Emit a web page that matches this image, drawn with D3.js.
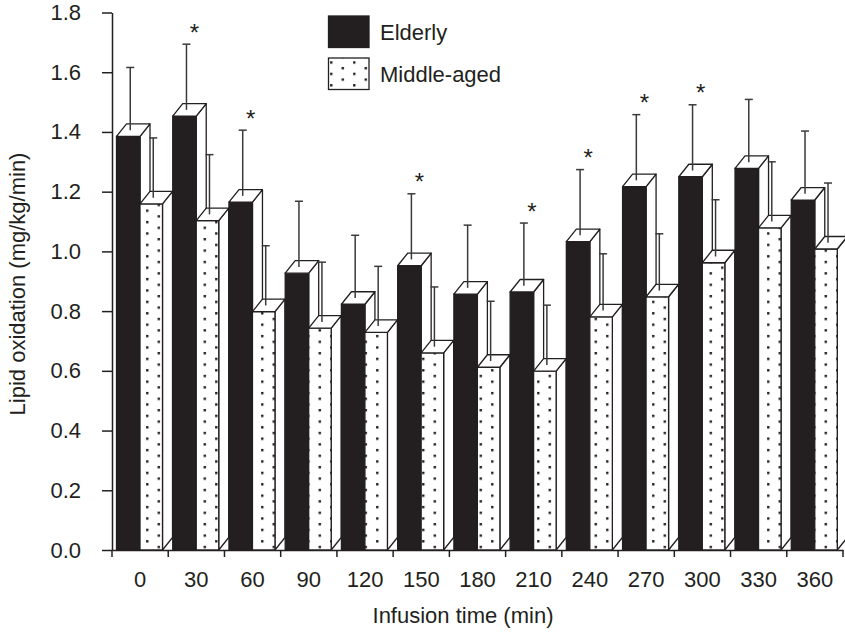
<!DOCTYPE html>
<html>
<head>
<meta charset="utf-8">
<script src="https://cdn.jsdelivr.net/npm/d3@7"></script>
<style>
  body { margin: 0; background: #fff; }
  svg { display: block; }
  text { font-family: "Liberation Sans", Arial, Helvetica, sans-serif; fill: #231f20; }
</style>
</head>
<body>
<svg id="chart" width="845" height="633"></svg>
<script>
// Lipid oxidation during infusion, mean and SD per time point
const times = [0, 30, 60, 90, 120, 150, 180, 210, 240, 270, 300, 330, 360];
const elderly = [1.385, 1.453, 1.165, 0.927, 0.823, 0.952, 0.857, 0.864, 1.033, 1.217, 1.250, 1.278, 1.172];
const elderlySD = [0.21, 0.22, 0.22, 0.22, 0.21, 0.22, 0.21, 0.21, 0.22, 0.22, 0.22, 0.21, 0.21];
const middleAged = [1.159, 1.103, 0.798, 0.743, 0.729, 0.660, 0.612, 0.599, 0.781, 0.848, 0.962, 1.079, 1.008];
const middleAgedSD = [0.20, 0.20, 0.20, 0.20, 0.20, 0.20, 0.20, 0.20, 0.19, 0.19, 0.19, 0.20, 0.20];
const significant = [30, 60, 150, 210, 240, 270, 300];
const yTicks = [0.0, 0.2, 0.4, 0.6, 0.8, 1.0, 1.2, 1.4, 1.6, 1.8];
const seriesNames = ["Elderly", "Middle-aged"];

const ink = "#231f20";
const fontSize = 22;
const svg = d3.select("#chart");

const x = d3.scaleBand().domain(times).range([112, 843]).paddingInner(0).paddingOuter(0);
const y = d3.scaleLinear().domain([0, 1.8]).range([550, 12.5]);

// 3-D box geometry
const depthX = 10, depthY = 12.5;
const offset = 4.5, wE = 23.5, wM = 22.5;

// dotted fill
const defs = svg.append("defs");
const pat = defs.append("pattern")
  .attr("id", "dots")
  .attr("patternUnits", "userSpaceOnUse")
  .attr("x", 146.1).attr("y", 4.3)
  .attr("width", 23).attr("height", 11.4);
pat.append("rect").attr("width", 23).attr("height", 11.4).attr("fill", "#fff");
pat.append("rect").attr("x", 0).attr("y", 0).attr("width", 2.4).attr("height", 2.4).attr("fill", ink);
pat.append("rect").attr("x", 11.5).attr("y", 5.7).attr("width", 2.4).attr("height", 2.4).attr("fill", ink);

function box(g, x0, w, v, fill) {
  const yt = y(v), yb = y(0), x1 = x0 + w;
  // side face
  g.append("polygon")
    .attr("points", [[x1, yb], [x1 + depthX, yb - depthY], [x1 + depthX, yt - depthY], [x1, yt]].join(" "))
    .attr("fill", "#fff").attr("stroke", ink).attr("stroke-width", 1.3).attr("stroke-linejoin", "round");
  // front face
  g.append("rect")
    .attr("x", x0).attr("y", yt).attr("width", w).attr("height", yb - yt)
    .attr("fill", fill).attr("stroke", ink).attr("stroke-width", 1.3);
  // top face
  g.append("polygon")
    .attr("points", [[x0, yt], [x0 + depthX, yt - depthY], [x1 + depthX, yt - depthY], [x1, yt]].join(" "))
    .attr("fill", "#fff").attr("stroke", ink).attr("stroke-width", 1.3).attr("stroke-linejoin", "round");
}

const bars = svg.append("g");
times.forEach((t, i) => {
  const g = bars.append("g");
  const xe = x(t) + offset;
  box(g, xe, wE, elderly[i], ink);
  box(g, xe + wE, wM, middleAged[i], "url(#dots)");
});

// error bars (upper only)
const err = svg.append("g").attr("stroke", "#3a3a3a").attr("stroke-width", 1.5);
function errorBar(cx, v, sd) {
  const y0 = y(v) - depthY / 2, y1 = y(v + sd) - depthY / 2;
  err.append("line").attr("x1", cx).attr("x2", cx).attr("y1", y0).attr("y2", y1);
  err.append("line").attr("x1", cx - 4).attr("x2", cx + 4).attr("y1", y1).attr("y2", y1);
}
times.forEach((t, i) => {
  const xe = x(t) + offset;
  errorBar(xe + wE / 2 + 2, elderly[i], elderlySD[i]);
  errorBar(xe + wE + wM / 2 + 2, middleAged[i], middleAgedSD[i]);
});

// significance markers
times.forEach((t, i) => {
  if (!significant.includes(t)) return;
  const cx = x(t) + offset + wE / 2 + 10;
  const capY = y(elderly[i] + elderlySD[i]) - depthY / 2;
  svg.append("text").attr("x", cx).attr("y", capY - 3.5)
    .attr("text-anchor", "middle").attr("font-size", 24).text("*");
});

// y axis
const yAxis = svg.append("g").attr("transform", "translate(112,0)")
  .call(d3.axisLeft(y).tickValues(yTicks).tickFormat(d3.format(".1f")).tickSize(10).tickSizeOuter(0).tickPadding(21));
yAxis.select(".domain").attr("stroke", ink).attr("stroke-width", 1.5);
yAxis.selectAll(".tick line").attr("stroke", ink).attr("stroke-width", 1.5);
yAxis.selectAll(".tick text").attr("font-size", fontSize).attr("fill", ink)
  .style("font-family", '"Liberation Sans", Arial, sans-serif');

// x axis
const xAxis = svg.append("g").attr("transform", "translate(0,550)")
  .call(d3.axisBottom(x).tickSize(0).tickPadding(21));
xAxis.select(".domain").attr("stroke", ink).attr("stroke-width", 1.5);
xAxis.selectAll(".tick text").attr("font-size", fontSize).attr("fill", ink)
  .style("font-family", '"Liberation Sans", Arial, sans-serif');
xAxis.selectAll(".boundary")
  .data(d3.range(times.length + 1))
  .enter().append("line")
  .attr("x1", k => x.range()[0] + k * x.step())
  .attr("x2", k => x.range()[0] + k * x.step())
  .attr("y1", 0).attr("y2", 7)
  .attr("stroke", ink).attr("stroke-width", 1.5);

// axis titles
svg.append("text").attr("x", 463).attr("y", 623).attr("text-anchor", "middle")
  .attr("font-size", fontSize).text("Infusion time (min)");
svg.append("text").attr("transform", "translate(25,284) rotate(-90)").attr("text-anchor", "middle")
  .attr("font-size", fontSize).text("Lipid oxidation (mg/kg/min)");

// legend
const legend = svg.append("g");
const fills = [ink, "url(#dots)"];
seriesNames.forEach((name, i) => {
  const ly = 16 + i * 42;
  legend.append("rect").attr("x", 328.5).attr("y", ly).attr("width", 40.5).attr("height", 31.5)
    .attr("fill", fills[i]).attr("stroke", ink).attr("stroke-width", 1.3);
  legend.append("text").attr("x", 380).attr("y", ly + 23.5).attr("font-size", fontSize).text(name);
});
</script>
</body>
</html>
